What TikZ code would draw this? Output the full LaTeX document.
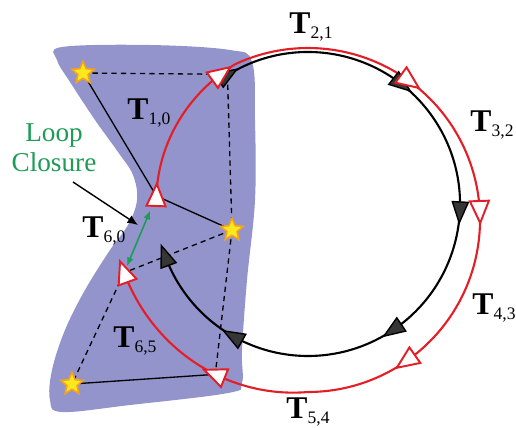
\documentclass[tikz,border=0pt]{standalone}
\usepackage{fontspec}
\setmainfont{Liberation Serif}
\usetikzlibrary{shapes.geometric,arrows.meta}
\definecolor{blobc}{HTML}{9494CC}
\definecolor{redc}{HTML}{E41E26}
\definecolor{greenc}{HTML}{1C9C55}
\definecolor{starf}{HTML}{FFE81C}
\definecolor{stard}{HTML}{F7A21B}
\definecolor{tridark}{HTML}{363636}
\newcommand{\TTlab}[1]{{\fontsize{18}{18}\selectfont\bfseries T}\raisebox{-3pt}{\fontsize{10}{10}\selectfont #1}}
\begin{document}
\begin{tikzpicture}[x=0.02cm,y=0.02cm,
  declare function={rr(\t)=172+max(0,-90-(\t))*0.26-max(0,(\t)-115)*0.33;},
  redtri/.style={draw=redc,fill=white,line width=1.1pt,line join=miter},
  blacktri/.style={draw=black,fill=tridark,line width=0.8pt,line join=miter},
  obs/.style={line width=0.75pt,black},
  obsd/.style={line width=0.75pt,black,dash pattern=on 3pt off 2.4pt},
  landmark/.style={star,star points=5,star point ratio=2.2,minimum size=0.47cm,inner sep=0pt,fill=starf,draw=stard,line width=0.9pt},
  lab/.style={inner sep=0pt,anchor=center}]
\useasboundingbox (0,0) rectangle (516,427);
% blob
\fill[blobc] plot[smooth cycle,tension=0.6] coordinates {
 (62,380) (150,382) (230,377) (252,365) (255,307) (255,227) (247,147) (242,77)
 (242,44) (228,34) (130,22) (62,15) (50,27) (52,57) (65,97) (85,137) (110,177)
 (128,202) (137,227) (133,252) (118,275) (95,307) (72,342) (57,367)};
% coordinates
\coordinate (c) at (308,223);
\foreach \n/\t in {p0/171,p1/121,p2/54,p3/3,p4/-55,p5/-121,p6/-164}
  \coordinate (\n) at ({308+rr(\t)*cos(\t)},{207+rr(\t)*sin(\t)});
\foreach \n/\t in {b1/122,b2/52,b3/-3,b4/-56,b5/-119.5,b6/-160}
  \coordinate (\n) at ({308+152*cos(\t)},{223+152*sin(\t)});
\coordinate (s1) at (83,354);
\coordinate (s2) at (232,197);
\coordinate (s3) at (72,43);
% observations
\draw[obsd] (s1) -- (p1);
\draw[obsd] (b1) -- (s2);
\draw[obsd] (s2) -- (p6);
\draw[obsd] (s2) -- (p5);
\draw[obsd] (p6) -- (s3);
\draw[obs] (s1) -- (p0);
\draw[obs] (p0) -- (s2);
\draw[obs] (s3) -- (p5);
% black trajectory
\draw[black,line width=1.2pt] (c) ++(122:152) arc[start angle=122,end angle=-163,radius=152];
% red trajectory
\draw[redc,line width=1.2pt] plot[domain=171:-164,samples=200] ({308+rr(\x)*cos(\x)},{207+rr(\x)*sin(\x)});
% black poses
\foreach \n/\a in {b1/32,b2/-38,b3/-93,b4/-146,b5/150.5,b6/110}
  \draw[blacktri,shift={(\n)},rotate=\a] (11,0) -- (-10,8) -- (-10,-8) -- cycle;
% red poses
\foreach \n/\a in {p0/88,p1/36,p2/-36,p3/-88,p4/-145,p5/158,p6/110}
  \draw[redtri,shift={(\n)},rotate=\a] (12,0) -- (-10,9.5) -- (-10,-9.5) -- cycle;
% landmarks
\node[landmark] (l1) at (s1) {};
\node[landmark] (l2) at (s2) {};
\node[landmark] (l3) at (s3) {};
% loop closure
\draw[greenc,line width=0.9pt,{Latex[length=5pt,width=4pt]}-{Latex[length=5pt,width=4pt]},shorten <=9pt,shorten >=4pt] (p0) -- (p6);
\node[text=greenc,align=center,font=\fontsize{15.5}{17}\selectfont,inner sep=0pt] (lc) at (54,279) {Loop\\Closure};
\coordinate (lca) at (73,245);
\coordinate (lcb) at (138,202);
\draw[black,line width=0.8pt,-{Latex[length=6pt,width=5pt]}] (lca) -- (lcb);
% labels
\node[lab] (t10) at (149,314) {\TTlab{1,0}};
\node[lab] (t21) at (311,400) {\TTlab{2,1}};
\node[lab] (t32) at (492,302) {\TTlab{3,2}};
\node[lab] (t43) at (494,119) {\TTlab{4,3}};
\node[lab] (t54) at (308,15) {\TTlab{5,4}};
\node[lab] (t65) at (135,86) {\TTlab{6,5}};
\node[lab] (t60) at (104,196) {\TTlab{6,0}};
\end{tikzpicture}
\end{document}
